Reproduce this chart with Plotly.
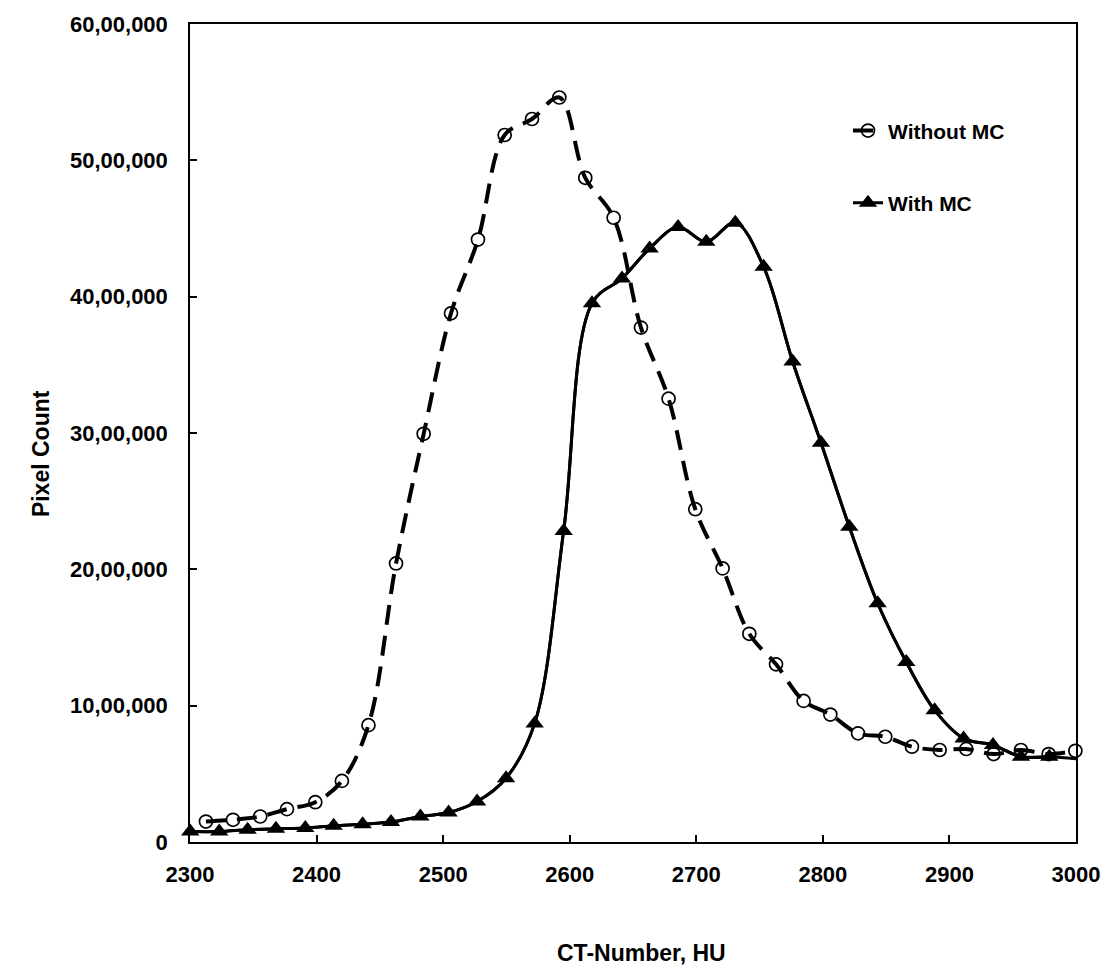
import plotly.graph_objects as go

# ---- data ----
ct_without = [2312.6, 2334, 2355.5, 2376.6, 2399, 2420, 2441, 2462.8, 2484.6,
              2506.2, 2527.5, 2548.6, 2570.2, 2591.8, 2612.3, 2634.7, 2656.3,
              2678.1, 2699.2, 2720.8, 2741.9, 2763, 2784.8, 2805.9, 2827.8,
              2849.3, 2870.4, 2892.3, 2913.3, 2934.9, 2956.5, 2978.4, 2999.5]
count_without = [150000, 163000, 187000, 241000, 292000, 448000, 857000, 2043000,
                 2994000, 3878000, 4419000, 5186000, 5303000, 5461000, 4872000,
                 4579000, 3773000, 3252000, 2441000, 2007000, 1527000, 1303000,
                 1035000, 935000, 797000, 772000, 699000, 675000, 682000, 645000,
                 675000, 645000, 669000]

ct_with = [2300.2, 2323.1, 2345.5, 2367.9, 2391.1, 2413.5, 2436.4, 2458.8, 2482,
           2504.3, 2526.8, 2549.7, 2572.3, 2595.2, 2617.6, 2641.3, 2663.1, 2685.6,
           2707.9, 2730.8, 2753.2, 2776.1, 2798.5, 2820.9, 2843.3, 2865.9, 2888.3,
           2911.2, 2934.4, 2956.5, 2978.9]
count_with = [77000, 77000, 90000, 97000, 102000, 119000, 131000, 146000, 187000,
              216000, 297000, 468000, 870000, 2282000, 3951000, 4134000, 4353000,
              4511000, 4402000, 4543000, 4219000, 3525000, 2928000, 2312000,
              1751000, 1320000, 967000, 760000, 711000, 626000, 626000]
# the smoothed "With MC" line runs on past the right edge of the axis
ct_with_tail = [3001.5]
count_with_tail = [610000]

y_tickvals = [0, 1000000, 2000000, 3000000, 4000000, 5000000, 6000000]
y_ticktext = ["0", "10,00,000", "20,00,000", "30,00,000", "40,00,000",
              "50,00,000", "60,00,000"]
x_tickvals = [2300, 2400, 2500, 2600, 2700, 2800, 2900, 3000]

FONT = "Liberation Sans, Arial, sans-serif"

fig = go.Figure()

# full smoothed line for "With MC" (continues beyond the axis, clipped)
fig.add_trace(go.Scatter(
    x=ct_with + ct_with_tail, y=count_with + count_with_tail,
    mode="lines", showlegend=False, hoverinfo="skip",
    line=dict(color="black", width=3, shape="spline", smoothing=1.0),
))

fig.add_trace(go.Scatter(
    x=ct_without, y=count_without, name="<b>Without MC</b>",
    mode="lines+markers", legendgroup="a",
    line=dict(color="black", width=4, dash="20px,11px", shape="spline", smoothing=1.0),
    marker=dict(symbol="circle-open", size=13, color="black", line=dict(width=1.7, color="black")),
    cliponaxis=False,
))

fig.add_trace(go.Scatter(
    x=ct_with, y=count_with, name="<b>With MC</b>",
    mode="lines+markers", legendgroup="b",
    line=dict(color="black", width=3, shape="spline", smoothing=1.0),
    marker=dict(symbol="triangle-up", size=16, color="black"),
    cliponaxis=False,
))

axis_common = dict(
    showgrid=False, zeroline=False, showline=True, linecolor="black", linewidth=1.5,
    mirror=True, ticks="inside", ticklen=7, tickwidth=1.5, tickcolor="black",
    tickfont=dict(family=FONT, size=22, color="black"),
)

fig.update_layout(
    width=1112, height=979,
    margin=dict(l=190, r=36, t=21, b=137),
    paper_bgcolor="white", plot_bgcolor="white",
    font=dict(family=FONT, color="black"),
    xaxis=dict(range=[2300, 3000], tickvals=x_tickvals, ticklabelstandoff=12,
               ticktext=[f"<b>{v}</b>" for v in x_tickvals], **axis_common),
    yaxis=dict(range=[0, 6000000], tickvals=y_tickvals, ticklabelstandoff=16,
               ticktext=[f"<b>{t}</b>" for t in y_ticktext], **axis_common),
    showlegend=True,
    legend=dict(x=(848 - 190) / 886, y=(842.3 - 108) / 821, xanchor="left", yanchor="top",
                bgcolor="rgba(0,0,0,0)", borderwidth=0, traceorder="grouped",
                tracegroupgap=42,
                font=dict(family=FONT, size=21, color="black")),
    annotations=[
        dict(text="<b>CT-Number, HU</b>", xref="paper", yref="paper",
             x=(641 - 190) / 886, y=(842.3 - 954) / 821, xanchor="center", yanchor="middle",
             showarrow=False, font=dict(family=FONT, size=23, color="black")),
        dict(text="<b>Pixel Count</b>", xref="paper", yref="paper",
             x=(41 - 190) / 886, y=(842.3 - 453) / 821, xanchor="center", yanchor="middle",
             textangle=-90, showarrow=False, font=dict(family=FONT, size=23, color="black")),
    ],
)

fig.write_html("out.html")
